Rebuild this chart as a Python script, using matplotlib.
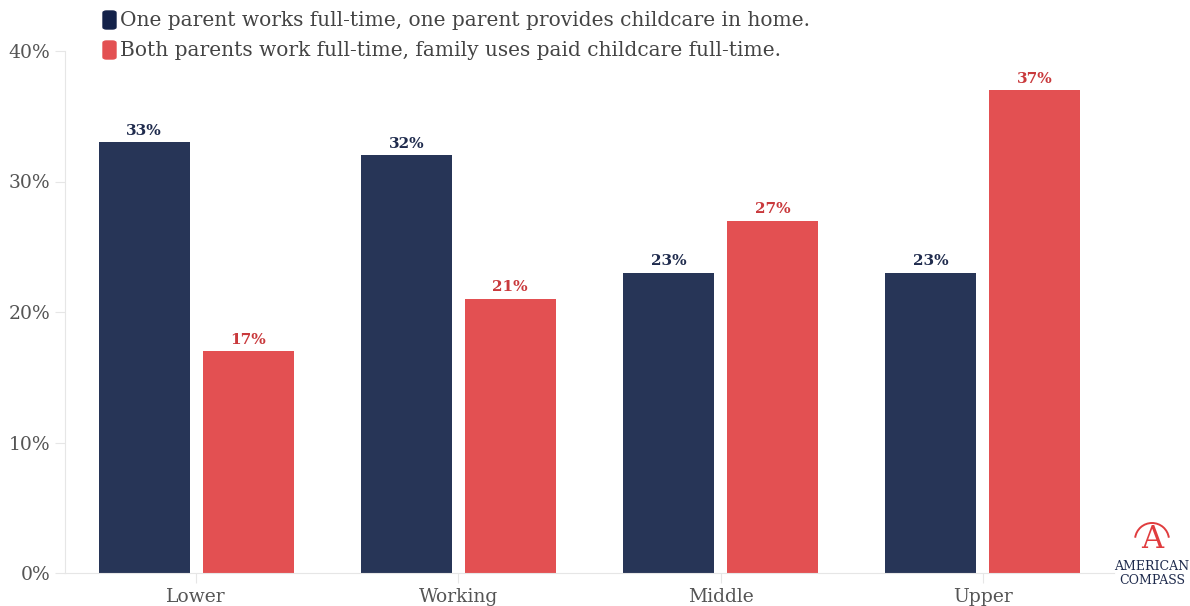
import numpy as np
import matplotlib.pyplot as plt
from matplotlib.patches import FancyBboxPatch, Arc

plt.rcParams['font.family'] = ['DejaVu Serif']

# share of families by class
classes = ['Lower', 'Working', 'Middle', 'Upper']
one_parent_home = [33, 32, 23, 23]
both_paid_care = [17, 21, 27, 37]
series_names = ['One parent works full-time, one parent provides childcare in home.',
                'Both parents work full-time, family uses paid childcare full-time.']

navy = '#273557'
red = '#e35052'
navy_txt = '#1f2b4d'
red_txt = '#c9393c'
grid_gray = '#e6e6e6'
tick_gray = '#555555'

W, H = 1190, 606
fig = plt.figure(figsize=(W / 100, H / 100), dpi=100)
ax = fig.add_axes([65 / W, 33 / H, (1114 - 65) / W, (573 - 51) / H])

x = np.arange(len(classes))
bw = 0.347
off = 0.198
b1 = ax.bar(x - off, one_parent_home, bw, color=navy)
b2 = ax.bar(x + off, both_paid_care, bw, color=red)

for rects, vals, c in [(b1, one_parent_home, navy_txt), (b2, both_paid_care, red_txt)]:
    for r, v in zip(rects, vals):
        ax.text(r.get_x() + r.get_width() / 2, v + 0.35, f'{v}%', ha='center', va='bottom',
                fontsize=11, fontweight='bold', color=c)

ax.set_xlim(-0.5, 3.5)
ax.set_ylim(0, 40)
ax.set_yticks([0, 10, 20, 30, 40])
ax.set_yticklabels([f'{t}%' for t in [0, 10, 20, 30, 40]])
ax.set_xticks(x)
ax.set_xticklabels(classes)
ax.tick_params(axis='both', colors=grid_gray, labelcolor=tick_gray, labelsize=13.5, length=7)
ax.tick_params(axis='x', pad=4)
for s in ['top', 'right']:
    ax.spines[s].set_visible(False)
for s in ['left', 'bottom']:
    ax.spines[s].set_color(grid_gray)

# legend drawn by hand at the top
for i, (name, c) in enumerate(zip(series_names, ['#14224a', red])):
    yc = 1 - (20 + 30 * i) / H
    fig.patches.append(FancyBboxPatch((103 / W, yc - 9 / H), 13 / W, 18 / H,
                                      boxstyle='round,pad=0,rounding_size=0.003',
                                      transform=fig.transFigure, color=c))
    fig.text(120 / W, yc, name, fontsize=14.5, color='#444444', va='center', ha='left')

# logo
lx, ly = 1152 / W, 1 - 540 / H
fig.text(lx, ly, 'A', fontsize=22, color='#e03c3e', ha='center', va='center')
fig.patches.append(Arc((lx, ly), 34 / W, 34 / H, transform=fig.transFigure,
                       theta1=15, theta2=165, color='#e03c3e', lw=1.4))
fig.text(lx, 1 - 566 / H, 'AMERICAN', fontsize=9, color='#1f2b4d', ha='center', va='center')
fig.text(lx, 1 - 580 / H, 'COMPASS', fontsize=9, color='#1f2b4d', ha='center', va='center')

fig.savefig('out.png', dpi=100)
